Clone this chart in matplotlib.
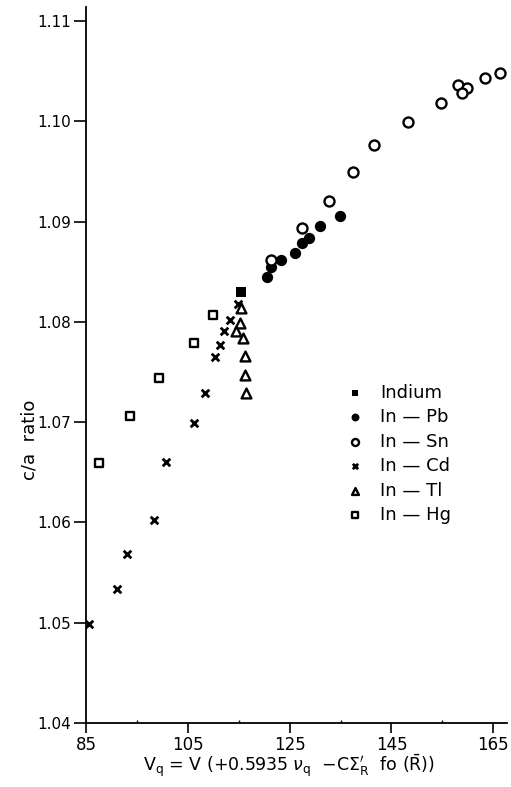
import matplotlib
matplotlib.use("Agg")
import matplotlib.pyplot as plt
from matplotlib.ticker import FixedLocator

# ---- data ----
indium_x = [115.5]
indium_y = [1.0830]

inpb_x = [120.5, 121.3, 123.3, 126.1, 127.4, 128.9, 130.9, 134.9]
inpb_y = [1.0845, 1.0855, 1.0862, 1.0869, 1.0879, 1.0884, 1.0896, 1.0906]

insn_x = [121.4, 127.4, 132.8, 137.5, 141.6, 148.2, 154.8, 158.1, 159.8, 158.8, 163.3, 166.4]
insn_y = [1.0862, 1.0894, 1.0921, 1.0949, 1.0976, 1.0999, 1.1018, 1.1036, 1.1033, 1.1028, 1.1043, 1.1048]

incd_x = [114.8, 113.3, 112.2, 111.4, 110.3, 108.3, 106.3, 100.8, 98.3, 93.1, 91.1, 85.6]
incd_y = [1.0818, 1.0802, 1.0791, 1.0777, 1.0765, 1.0729, 1.0699, 1.0660, 1.0602, 1.0569, 1.0534, 1.0499]

intl_x = [115.4, 115.3, 114.5, 115.8, 116.3, 116.3, 116.4]
intl_y = [1.0814, 1.0799, 1.0791, 1.0784, 1.0766, 1.0747, 1.0729]

inhg_x = [109.9, 106.3, 99.3, 93.6, 87.6]
inhg_y = [1.0807, 1.0779, 1.0744, 1.0706, 1.0659]

x_ticks = [85, 105, 125, 145, 165]
x_minor = [95, 115, 135, 155]
y_ticks = [1.04, 1.05, 1.06, 1.07, 1.08, 1.09, 1.10, 1.11]
y_ticklabels = ["1.04", "1.05", "1.06", "1.07", "1.08", "1.09", "1.10", "1.11"]

labels = ["Indium", "In — Pb", "In — Sn", "In — Cd", "In — Tl", "In — Hg"]

plt.rcParams['font.family'] = ['DejaVu Sans']

fig = plt.figure(figsize=(5.11, 7.87), dpi=100)
ax = fig.add_axes([0.1683, 0.0813, 0.8239, 0.9098])

k = 'black'
h1 = ax.scatter(indium_x, indium_y, marker='s', s=45, c=k, linewidths=0)
h2 = ax.scatter(inpb_x, inpb_y, marker='o', s=66, c=k, linewidths=0)
h3 = ax.scatter(insn_x, insn_y, marker='o', s=52, facecolors='white', edgecolors=k, linewidths=1.7)
h4 = ax.scatter(incd_x, incd_y, marker='x', s=30, c=k, linewidths=2.0)
h5 = ax.scatter(intl_x, intl_y, marker='^', s=50, facecolors='white', edgecolors=k, linewidths=1.7)
h6 = ax.scatter(inhg_x, inhg_y, marker='s', s=30, facecolors='white', edgecolors=k, linewidths=1.7)

ax.set_xlim(85, 167.7)
ax.set_ylim(1.04, 1.1114)

for sp in ['top', 'right']:
    ax.spines[sp].set_visible(False)
for sp in ['left', 'bottom']:
    ax.spines[sp].set_linewidth(1.3)

ax.set_xticks(x_ticks)
ax.set_xticklabels([str(v) for v in x_ticks], fontsize=12)
ax.xaxis.set_minor_locator(FixedLocator(x_minor))
ax.set_yticks(y_ticks)
ax.set_yticklabels(y_ticklabels, fontsize=11)
ax.tick_params(axis='x', which='major', direction='out', length=7, width=1.2, pad=2)
ax.tick_params(axis='x', which='minor', direction='in', length=2, width=1.0)
ax.tick_params(axis='y', which='major', direction='out', length=9, width=1.2, pad=2)

ax.set_ylabel("c/a  ratio", fontsize=13)
ax.yaxis.set_label_coords(-0.114, 0.395)

fig.text(0.565, 1 - 771 / 787,
         r"V$_\mathrm{q}$ = V (+0.5935 $\nu_\mathrm{q}$  $-$C$\Sigma^{\prime}_{\mathrm{R}}$  fo ($\bar{\mathrm{R}}$))",
         fontsize=12.5, ha='center', va='baseline')

leg = ax.legend([h1, h2, h3, h4, h5, h6], labels, loc='upper left',
                bbox_to_anchor=(0.60, 0.484), frameon=False, fontsize=13,
                markerscale=0.7, labelspacing=0.36, handletextpad=0.9,
                handlelength=1.0, borderaxespad=0)

fig.savefig("out.png", dpi=100)
